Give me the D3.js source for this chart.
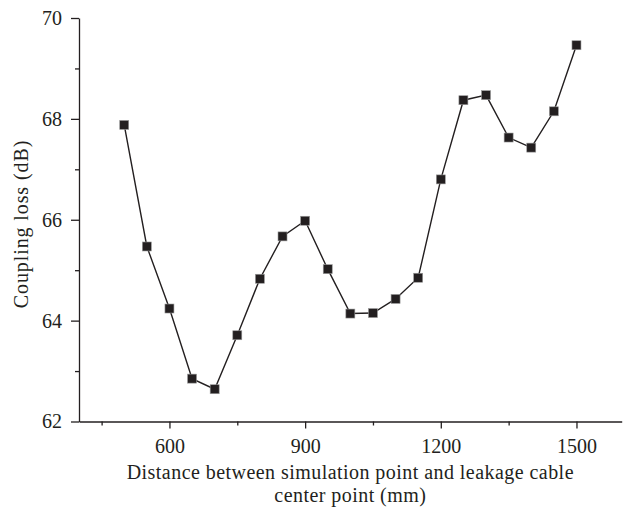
<!DOCTYPE html>
<html>
<head>
<meta charset="utf-8">
<script src="https://cdn.jsdelivr.net/npm/d3@7"></script>
<style>
  body { margin: 0; background: #fff; }
  text { font-family: "Liberation Serif", "Times New Roman", serif; fill: #231f20; }
</style>
</head>
<body>
<div id="chart"></div>
<script>
/* DATA */
const distances = [500, 550, 600, 650, 700, 750, 800, 850, 900, 950, 1000,
  1050, 1100, 1150, 1200, 1250, 1300, 1350, 1400, 1450, 1500];
const couplingLoss = [67.88, 65.47, 64.24, 62.85, 62.64, 63.71, 64.83, 65.67, 65.98, 65.02, 64.14,
  64.15, 64.43, 64.85, 66.80, 68.37, 68.47, 67.63, 67.43, 68.15, 69.46];
const xTicks = [600, 900, 1200, 1500];
const xMinorTicks = [450, 750, 1050, 1350];
const yTicks = [62, 64, 66, 68, 70];
const yMinorTicks = [63, 65, 67, 69];

/* CONSTANTS */
const width = 626,
  height = 510,
  margin = { top: 18, bottom: 88.5, left: 79, right: 4.3 },
  ink = "#231f20",
  markerSize = 9;

const data = distances.map((d, i) => ({ x: d, y: couplingLoss[i] }));

const svg = d3.select("#chart")
  .append("svg")
  .attr("width", width)
  .attr("height", height);

// scales
const xScale = d3.scaleLinear()
  .domain([400, 1600])
  .range([margin.left, width - margin.right]);

const yScale = d3.scaleLinear()
  .domain([62, 70])
  .range([height - margin.bottom, margin.top]);

// axes
const xAxis = d3.axisBottom(xScale).tickValues(xTicks).tickFormat(d3.format("d"))
  .tickSize(7).tickSizeOuter(0).tickPadding(10);
const xMinor = d3.axisBottom(xScale).tickValues(xMinorTicks).tickSize(4).tickFormat("");
const yAxis = d3.axisLeft(yScale).tickValues(yTicks).tickFormat(d3.format("d"))
  .tickSize(8).tickSizeOuter(0).tickPadding(9);
const yMinor = d3.axisLeft(yScale).tickValues(yMinorTicks).tickSize(4).tickFormat("");

svg.append("g")
  .attr("transform", `translate(0, ${height - margin.bottom})`)
  .call(xAxis);
svg.append("g")
  .attr("transform", `translate(0, ${height - margin.bottom})`)
  .call(xMinor)
  .call(g => g.select(".domain").remove());

svg.append("g")
  .attr("transform", `translate(${margin.left}, 0)`)
  .call(yAxis);
svg.append("g")
  .attr("transform", `translate(${margin.left}, 0)`)
  .call(yMinor)
  .call(g => g.select(".domain").remove());

svg.selectAll(".domain, .tick line")
  .attr("stroke", ink)
  .attr("stroke-width", 1.3);
svg.selectAll(".tick text")
  .attr("font-size", 20)
  .attr("font-family", null)
  .attr("fill", ink);

// axis titles
const midX = (margin.left + width - margin.right) / 2;
svg.append("text")
  .attr("x", midX)
  .attr("y", 479)
  .attr("text-anchor", "middle")
  .attr("font-size", 20)
  .attr("letter-spacing", 0.45)
  .text("Distance between simulation point and leakage cable");
svg.append("text")
  .attr("x", midX)
  .attr("y", 502)
  .attr("text-anchor", "middle")
  .attr("font-size", 20)
  .attr("letter-spacing", 0.45)
  .text("center point (mm)");

svg.append("text")
  .attr("transform", `translate(28, 224) rotate(-90)`)
  .attr("text-anchor", "middle")
  .attr("font-size", 20)
  .attr("letter-spacing", 0.9)
  .text("Coupling loss (dB)");

// line
const line = d3.line()
  .x(d => xScale(d.x))
  .y(d => yScale(d.y));

svg.append("path")
  .datum(data)
  .attr("fill", "none")
  .attr("stroke", ink)
  .attr("stroke-width", 1.4)
  .attr("d", line);

// markers
svg.selectAll("rect.marker")
  .data(data)
  .join("rect")
  .attr("class", "marker")
  .attr("x", d => xScale(d.x) - markerSize / 2)
  .attr("y", d => yScale(d.y) - markerSize / 2)
  .attr("width", markerSize)
  .attr("height", markerSize)
  .attr("fill", ink)
  .attr("stroke", "#9a9a9a")
  .attr("stroke-width", 0.6);
</script>
</body>
</html>
